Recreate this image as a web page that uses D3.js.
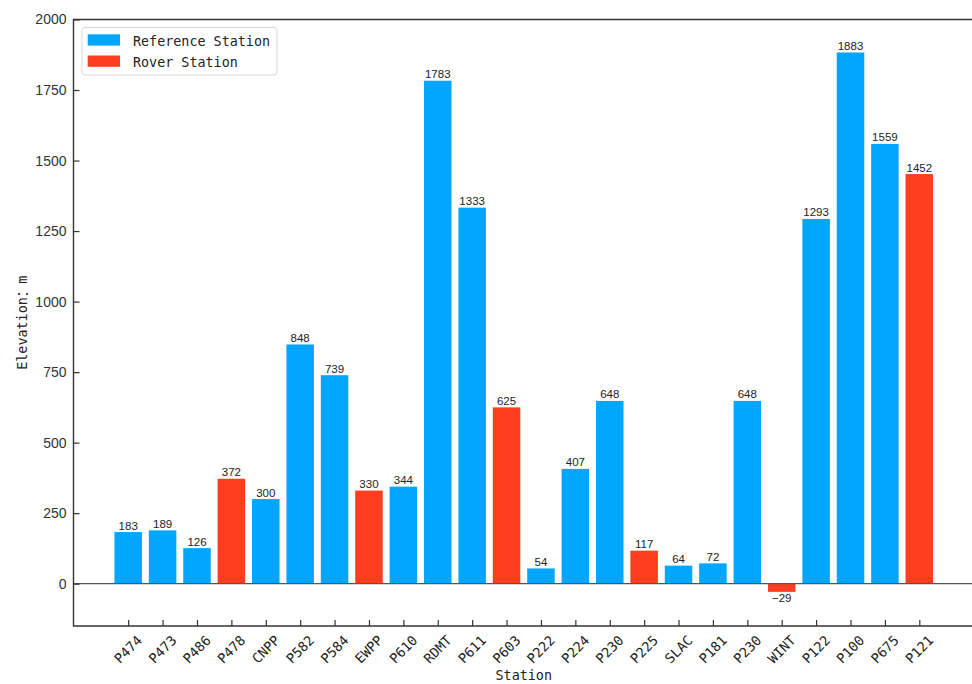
<!DOCTYPE html>
<html>
<head>
<meta charset="utf-8">
<script src="https://cdn.jsdelivr.net/npm/d3@7"></script>
<style>
  html, body { margin: 0; padding: 0; background: #fff; }
  svg { display: block; }
</style>
</head>
<body>
<svg id="chart" width="972" height="684"></svg>
<script>
// Station names along the x axis
const stations = ["P474", "P473", "P486", "P478", "CNPP", "P582", "P584", "EWPP", "P610", "RDMT",
  "P611", "P603", "P222", "P224", "P230", "P225", "SLAC", "P181", "P230", "WINT",
  "P122", "P100", "P675", "P121"];
// Elevation of each station, metres
const elevations = [183, 189, 126, 372, 300, 848, 739, 330, 344, 1783,
  1333, 625, 54, 407, 648, 117, 64, 72, 648, -29,
  1293, 1883, 1559, 1452];
// Station role: "ref" = reference station, "rover" = rover station
const roles = ["ref", "ref", "ref", "rover", "ref", "ref", "ref", "rover", "ref", "ref",
  "ref", "rover", "ref", "ref", "ref", "rover", "ref", "ref", "ref", "rover",
  "ref", "ref", "ref", "rover"];
// Y axis tick values
const yTicks = [0, 250, 500, 750, 1000, 1250, 1500, 1750, 2000];
// Legend entries
const legendItems = [
  { key: "ref", label: "Reference Station" },
  { key: "rover", label: "Rover Station" }
];

(function () {
  const colors = { ref: "#00A6FF", rover: "#FF3D1F" };
  const monoFont = "'DejaVu Sans Mono', monospace";
  const sansFont = "'Liberation Sans', Arial, sans-serif";
  const cjkFont = "'Noto Sans CJK SC', sans-serif";
  const axisColor = "#333";

  const svg = d3.select("#chart");
  const plotL = 73.5, plotR = 974, plotT = 19.5, plotB = 626;

  const data = stations.map((s, i) => ({ i, name: s, value: elevations[i], role: roles[i] }));

  // Continuous index scale with margins around the first/last bar
  const x = d3.scaleLinear().domain([-1.59, 24.59]).range([plotL, plotR]);
  const y = d3.scaleLinear().domain([-150, 2000]).range([plotB, plotT]);
  const barW = x(0.8) - x(0);

  // Bars
  svg.append("g").selectAll("rect").data(data).join("rect")
    .attr("x", d => x(d.i - 0.4))
    .attr("width", barW)
    .attr("y", d => y(Math.max(0, d.value)))
    .attr("height", d => Math.abs(y(d.value) - y(0)))
    .attr("fill", d => colors[d.role]);

  // Zero reference line
  svg.append("line")
    .attr("x1", plotL).attr("x2", plotR)
    .attr("y1", y(0)).attr("y2", y(0))
    .attr("stroke", "#555").attr("stroke-width", 1.2);

  // Value labels
  svg.append("g").selectAll("text").data(data).join("text")
    .attr("x", d => x(d.i))
    .attr("y", d => d.value >= 0 ? y(d.value) - 2.5 : y(d.value) + 10)
    .attr("text-anchor", "middle")
    .attr("font-family", sansFont)
    .attr("font-size", 11.5)
    .attr("fill", "#222")
    .text(d => d.value < 0 ? "\u2212" + Math.abs(d.value) : d.value);

  // Y axis
  const yAxis = d3.axisLeft(y).tickValues(yTicks).tickFormat(d3.format("d"))
    .tickSize(-6).tickPadding(7);
  const gy = svg.append("g").attr("transform", `translate(${plotL},0)`).call(yAxis);
  gy.select(".domain").remove();
  gy.selectAll(".tick line").attr("stroke", axisColor).attr("stroke-width", 1.2);
  gy.selectAll(".tick text")
    .attr("font-family", sansFont).attr("font-size", 14).attr("fill", axisColor);

  // X axis
  const xAxis = d3.axisBottom(x).tickValues(d3.range(stations.length)).tickSize(-6).tickFormat(() => "");
  const gx = svg.append("g").attr("transform", `translate(0,${plotB})`).call(xAxis);
  gx.select(".domain").remove();
  gx.selectAll(".tick line").attr("stroke", axisColor).attr("stroke-width", 1.2);

  svg.append("g").selectAll("text").data(data).join("text")
    .attr("transform", d => `translate(${x(d.i)},${plotB + 23.5}) rotate(-45)`)
    .attr("text-anchor", "middle")
    .attr("dy", "0.35em")
    .attr("font-family", monoFont)
    .attr("font-size", 13.5)
    .attr("fill", "#222")
    .text(d => d.name);

  // Spines: left, bottom, top
  svg.append("path")
    .attr("d", `M${plotR},${plotT}H${plotL}V${plotB}H${plotR}`)
    .attr("fill", "none").attr("stroke", axisColor).attr("stroke-width", 1.4);

  // Axis titles
  svg.append("text")
    .attr("x", (plotL + plotR) / 2).attr("y", 679.5)
    .attr("text-anchor", "middle")
    .attr("font-family", monoFont).attr("font-size", 13.4).attr("fill", "#222")
    .text("Station");

  const yTitle = svg.append("text")
    .attr("transform", `translate(26.5,${(plotT + plotB) / 2}) rotate(-90)`)
    .attr("text-anchor", "middle")
    .attr("font-family", monoFont).attr("font-size", 13.4).attr("fill", "#222");
  yTitle.append("tspan").text("Elevation");
  yTitle.append("tspan").attr("font-family", cjkFont).text("\uFF1A");
  yTitle.append("tspan").text("m");

  // Legend
  const lg = svg.append("g");
  lg.append("rect")
    .attr("x", 82).attr("y", 27.5).attr("width", 195).attr("height", 47.5)
    .attr("rx", 3).attr("fill", "#fff").attr("fill-opacity", 0.8)
    .attr("stroke", "#d8d8d8").attr("stroke-width", 1);
  legendItems.forEach((item, k) => {
    const yy = 34.3 + k * 21.2;
    lg.append("rect")
      .attr("x", 87.7).attr("y", yy).attr("width", 32.3).attr("height", 11.3)
      .attr("fill", colors[item.key]);
    lg.append("text")
      .attr("x", 133).attr("y", yy + 11.3)
      .attr("font-family", monoFont).attr("font-size", 13.4).attr("fill", "#222")
      .text(item.label);
  });
})();
</script>
</body>
</html>
